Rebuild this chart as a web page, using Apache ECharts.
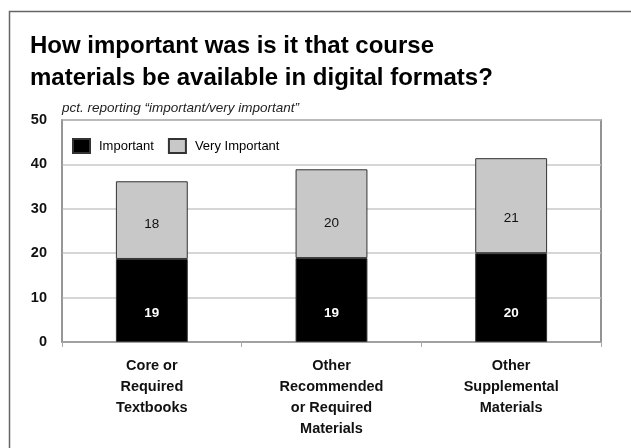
<!DOCTYPE html>
<html><head><meta charset="utf-8">
<script src="https://cdn.jsdelivr.net/npm/echarts@6/dist/echarts.min.js"></script>
<style>html,body{margin:0;padding:0;background:#fff}#c{width:631px;height:448px}</style>
</head><body><div id="c"></div>
<script>
const categories = ["Core or\nRequired\nTextbooks", "Other\nRecommended\nor Required\nMaterials", "Other\nSupplemental\nMaterials"];
const important = [18.7, 18.9, 20.0];
const veryImportant = [17.5, 20.0, 21.4];
const yTicks = [0, 10, 20, 30, 40, 50];
const titleText = "How important was is it that course\nmaterials be available in digital formats?";
const subtitleText = "pct. reporting \u201cimportant/very important\u201d";

const chart = echarts.init(document.getElementById('c'), null, {renderer: 'canvas'});
const baseFont = 'Liberation Sans, Arial, Helvetica, sans-serif';
chart.setOption({
  backgroundColor: '#fff',
  animation: false,
  textStyle: {fontFamily: baseFont},
  title: {
    text: titleText,
    left: 25, top: 25,
    textStyle: {fontFamily: baseFont, fontWeight: 'bold', fontSize: 24, lineHeight: 32, color: '#000'}
  },
  graphic: [
    {type: 'rect', left: 7, top: 9, shape: {width: 700, height: 500}, style: {fill: 'none', stroke: '#666', lineWidth: 1.5}, silent: true},
    {type: 'text', left: 62, top: 101, style: {text: subtitleText, font: 'italic 13.5px ' + baseFont, fill: '#222'}}
  ],
  legend: {
    left: 72, top: 138, padding: 0,
    itemWidth: 17, itemHeight: 14, itemGap: 14,
    icon: 'rect',
    textStyle: {fontSize: 13, color: '#000', padding: [0, 0, 0, 4]},
    data: ['Important', 'Very Important']
  },
  grid: {left: 62, top: 120, right: 30, bottom: 106, show: true, borderColor: '#707070', borderWidth: 1.5},
  xAxis: {
    type: 'category', data: categories,
    axisLine: {lineStyle: {color: '#999', width: 1.5}},
    axisTick: {show: true, length: 5, lineStyle: {color: '#aaa'}},
    axisLabel: {fontWeight: 'bold', fontSize: 14.5, lineHeight: 21, color: '#111', margin: 13}
  },
  yAxis: {
    type: 'value', min: yTicks[0], max: yTicks[yTicks.length - 1], interval: 10,
    axisLine: {show: true, lineStyle: {color: '#999', width: 1.5}},
    axisTick: {show: false},
    splitLine: {lineStyle: {color: '#c8c8c8', width: 1.5}},
    axisLabel: {fontWeight: 'bold', fontSize: 14.5, color: '#111', margin: 15}
  },
  series: [
    {
      name: 'Important', type: 'bar', stack: 's', data: important, barWidth: '40%',
      itemStyle: {color: '#000', borderColor: '#333', borderWidth: 1},
      label: {show: true, position: 'insideBottom', distance: 22, color: '#fff', fontWeight: 'bold', fontSize: 13.5,
        formatter: p => Math.round(p.value)}
    },
    {
      name: 'Very Important', type: 'bar', stack: 's', data: veryImportant, barWidth: '40%',
      itemStyle: {color: '#c8c8c8', borderColor: '#333', borderWidth: 1},
      label: {show: true, position: 'insideBottom', distance: 28, color: '#111', fontSize: 13.5,
        formatter: p => Math.round(p.value)}
    }
  ]
});
</script></body></html>
